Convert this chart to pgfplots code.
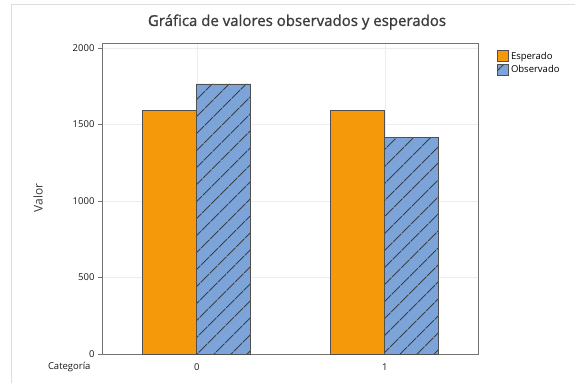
\documentclass[border=0pt]{standalone}
\usepackage{pgfplots}
\pgfplotsset{compat=1.18}
\usetikzlibrary{patterns.meta}
\usepackage{fontspec}
\setmainfont{Open Sans}
\newfontfamily\titlefont[FakeBold=1.2]{Open Sans}
\definecolor{esp}{RGB}{245,152,10}
\definecolor{obs}{RGB}{124,164,216}
\definecolor{edge}{RGB}{80,80,80}
\definecolor{hatch}{RGB}{60,64,72}
\definecolor{ttl}{RGB}{60,60,60}
\begin{document}
\begin{tikzpicture}
\path[use as bounding box] (0pt,0pt) rectangle (575pt,383pt);
\draw[black!13, line width=1pt] (11pt,0pt) -- (11pt,378pt) -- (575pt,378pt);
\begin{axis}[
  at={(102pt,29pt)}, anchor=south west,
  scale only axis, width=376pt, height=311pt,
  ymin=0, ymax=2033, xmin=-0.505, xmax=1.495,
  xtick={0,1}, ytick={0,500,1000,1500,2000},
  ytick pos=left,
  /pgf/number format/1000 sep={},
  /pgf/number format/assume math mode=true,
  grid=major, major grid style={color=black!7, line width=0.6pt},
  axis line style={color=black!55, line width=0.7pt},
  ytick style={color=black!55, line width=0.7pt},
  xtick style={draw=none},
  tick align=outside, major tick length=4pt,
  tick label style={font=\fontsize{9.5}{11}\selectfont, color=black!90},
  xticklabel style={yshift=-2pt},
  ybar=0pt, bar width=54pt,
  legend style={at={(1.045,0.985)}, anchor=north west, draw=none, fill=none,
    font=\fontsize{9.5}{11}\selectfont, row sep=1pt, inner sep=2pt},
  legend cell align=left,
  legend image code/.code={\draw[#1] (0pt,-5.5pt) rectangle (11pt,5.5pt);},
]
\addplot[fill=esp, draw=edge, line width=0.9pt] coordinates {(0,1590) (1,1590)};
\addlegendentry{Esperado}
\addplot[fill=obs, draw=edge, line width=0.9pt,
  postaction={pattern={Lines[angle=45,distance=13pt,line width=1.2pt]}, pattern color=hatch}]
  coordinates {(0,1765) (1,1418)};
\addlegendentry{Observado}
\end{axis}
\node[font=\titlefont\fontsize{15}{18}\selectfont, text=ttl] at (297pt,361pt) {Gráfica de valores observados y esperados};
\node[font=\fontsize{12}{14}\selectfont, text=ttl, rotate=90] at (38pt,185pt) {Valor};
\node[font=\fontsize{9.5}{11}\selectfont, text=black!90, anchor=east] at (94pt,16pt) {Categoría};
\end{tikzpicture}
\end{document}
